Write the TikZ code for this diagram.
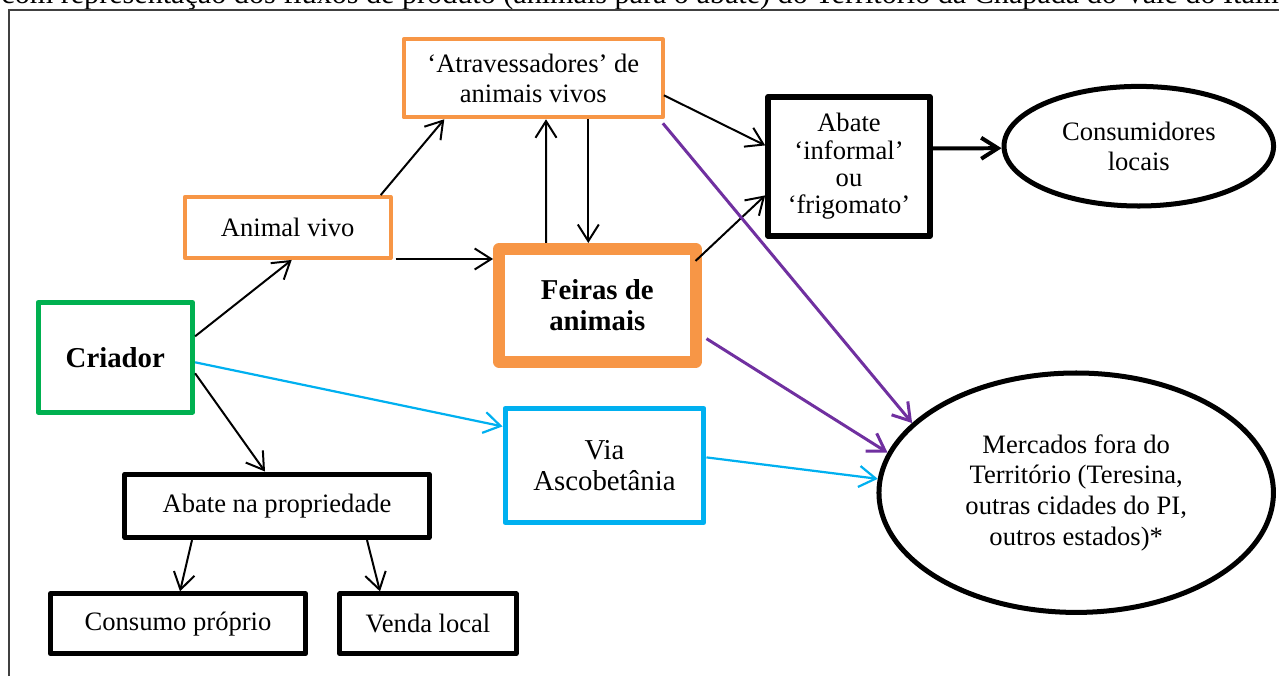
\documentclass[tikz,border=0pt]{standalone}
\usepackage{fontspec}
\setmainfont{Liberation Serif}
\usetikzlibrary{arrows.meta}
\usetikzlibrary{shapes.geometric}
\usetikzlibrary{calc}

\definecolor{laranja}{HTML}{F79646}
\definecolor{verde}{HTML}{00B050}
\definecolor{azul}{HTML}{00B0F0}
\definecolor{roxo}{HTML}{7030A0}
\definecolor{moldura}{HTML}{404040}

\begin{document}
\begin{tikzpicture}[x=0.4515pt, y=-0.4515pt, arrows={-Straight Barb[length=7.5pt,width=9.5pt]},
	font=\fontsize{12}{13.8}\selectfont,
	caixa/.style={draw, rectangle, align=center, inner sep=0pt, line join=round},
	elipse/.style={draw, ellipse, align=center, inner sep=0pt, line width=2.26pt},
	fluxo/.style={line width=0.9pt},
	fluxoroxo/.style={draw=roxo, line width=1.35pt},
	fluxoazul/.style={draw=azul, line width=1pt}]
	\useasboundingbox (0,0) rectangle (1279,676);

	\node[anchor=base west, inner sep=0pt, font=\fontsize{13.6}{16}\selectfont] (legenda) at (1,3) {com representação dos fluxos de produto (animais para o abate) do Território da Chapada do Vale do Itaim.};
	\draw[-, moldura, line width=0.7pt] (9,676) -- (9,10) -- (1279,10);

	\node[caixa, draw=laranja, line width=1.8pt, minimum width=117pt, minimum height=35.2pt] (atrav) at (533.3,78.3) {‘Atravessadores’ de\\animais vivos};
	\node[caixa, draw=laranja, line width=1.8pt, minimum width=93pt, minimum height=27.5pt] (animal) at (287.7,227.5) {Animal vivo};
	\node[caixa, draw=laranja, line width=5.4pt, minimum width=88.7pt, minimum height=50.9pt, font=\fontsize{13}{14}\selectfont\bfseries] (feiras) at (597.3,305.3) {Feiras de\\animais};
	\node[caixa, draw=verde, line width=2.26pt, minimum width=69.8pt, minimum height=49.4pt, font=\fontsize{13}{14}\selectfont\bfseries] (criador) at (115.3,357.3) {Criador};
	\node[caixa, line width=2.7pt, minimum width=73pt, minimum height=62.7pt, font=\fontsize{12}{12.4}\selectfont] (abinf) at (849,166.4) {Abate\\‘informal’\\ou\\‘frigomato’};
	\node[elipse, minimum width=121.7pt, minimum height=54pt] (consum) at (1138.8,146.2) {Consumidores\\locais};
	\node[elipse, minimum width=178.1pt, minimum height=108.1pt] (mercados) at (1076.2,492.7) {Mercados fora do\\Território (Teresina,\\outras cidades do PI,\\outros estados)*};
	\node[caixa, draw=azul, line width=2.26pt, minimum width=89.8pt, minimum height=51.5pt, font=\fontsize{13}{14.1}\selectfont] (via) at (604.5,465.4) {Via\\Ascobetânia};
	\node[caixa, line width=2.26pt, minimum width=137.3pt, minimum height=28.7pt] (abprop) at (277,505.8) {Abate na propriedade};
	\node[caixa, line width=2.26pt, minimum width=115.3pt, minimum height=27pt] (consumo) at (178,623.8) {Consumo próprio};
	\node[caixa, line width=2.26pt, minimum width=79.5pt, minimum height=27pt] (venda) at (428,623.8) {Venda local};

	\draw[fluxo] ($(criador.east)+(0,-21)$) -- ($(animal.south)+(4,0)$);
	\draw[fluxoazul] ($(criador.east)+(0,5)$) -- ($(via.west)+(0,-39)$);
	\draw[fluxo] ($(criador.east)+(0,16)$) -- ($(abprop.north)+(-12,0)$);
	\draw[fluxo] ($(animal.north)+(93,0)$) -- ($(atrav.south)+(-89,0)$);
	\draw[fluxo] ($(animal.east)+(3,31.5)$) -- ($(feiras.west)+(0,-46.3)$);
	\draw[fluxo] ($(feiras.north)+(-51.3,0)$) -- ($(atrav.south)+(12.7,0)$);
	\draw[fluxo] ($(atrav.south)+(55,0)$) -- ($(feiras.north)+(-9,0)$);
	\draw[fluxo] ($(atrav.east)+(-1,17)$) -- ($(abinf.west)+(0,-21)$);
	\draw[fluxo] ($(feiras.north east)+(-6,18)$) -- ($(abinf.west)+(0,29)$);
	\draw[line width=1.8pt] ($(abinf.east)+(0,-18)$) -- ($(consum.west)+(0,2)$);
	\draw[fluxoroxo] ($(atrav.south east)+(-2,4)$) -- (mercados.157);
	\draw[fluxoroxo] ($(feiras.south east)+(5,-29)$) -- (mercados.168);
	\draw[fluxoazul] ($(via.east)+(0,-8)$) -- (mercados.176);
	\draw[fluxo] ($(abprop.south)+(-85,0)$) -- ($(consumo.north)+(2,0)$);
	\draw[fluxo] ($(abprop.south)+(90,0)$) -- ($(venda.north)+(-48,0)$);
\end{tikzpicture}
\end{document}
